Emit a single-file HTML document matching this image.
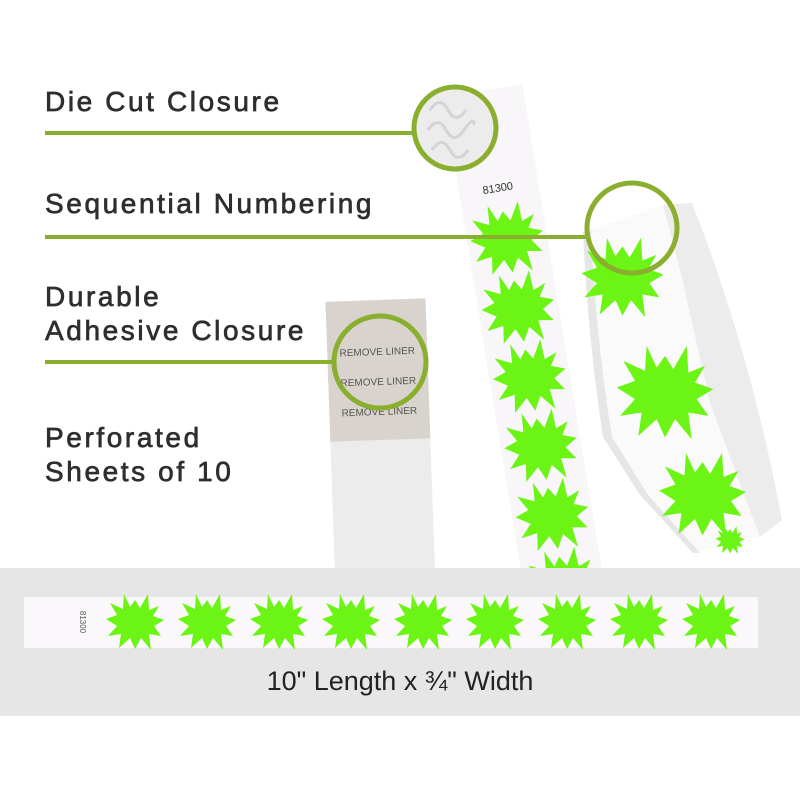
<!DOCTYPE html>
<html><head><style>
html,body{margin:0;padding:0;background:#fff;}
svg{display:block}
text{font-family:"Liberation Sans",sans-serif;}
</style></head><body>
<svg width="800" height="800" viewBox="0 0 800 800" xmlns="http://www.w3.org/2000/svg">
<defs>
<symbol id="st" viewBox="-30 -30 60 60">
<polygon points="0,-22 5,-14 13,-28 14,-12 24,-16 18,-6 29,-2 19,4 26,14 14,12 16,28 6,16 0,27 -5,16 -16,26 -14,12 -27,14 -18,4 -29,-3 -18,-7 -25,-19 -12,-13 -11,-28 -5,-15" fill="#6cf514"/>
</symbol>
<clipPath id="top"><rect x="0" y="0" width="800" height="568"/></clipPath>
</defs>
<rect width="800" height="800" fill="#fff"/>

<!-- gray band -->
<rect x="0" y="568" width="800" height="148" fill="#e6e6e6"/>
<rect x="24" y="597" width="734" height="51" fill="#fbf8fb"/>
<text x="80" y="622" font-size="8" fill="#555" transform="rotate(90 80 622)" text-anchor="middle">81300</text>
<g>
<use href="#st" x="104" y="592" width="62" height="60"/>
<use href="#st" x="176" y="592" width="62" height="60"/>
<use href="#st" x="248" y="592" width="62" height="60"/>
<use href="#st" x="320" y="592" width="62" height="60"/>
<use href="#st" x="392" y="592" width="62" height="60"/>
<use href="#st" x="464" y="592" width="62" height="60"/>
<use href="#st" x="536" y="592" width="62" height="60"/>
<use href="#st" x="608" y="592" width="62" height="60"/>
<use href="#st" x="680" y="592" width="62" height="60"/>
</g>
<text x="400" y="690" font-size="27" fill="#222" text-anchor="middle">10" Length x ¾" Width</text>

<g clip-path="url(#top)">
<!-- adhesive piece -->
<g transform="rotate(-2 380 430)">
<rect x="330" y="300" width="100" height="275" fill="#ececec"/>
<rect x="330" y="300" width="100" height="140" fill="#d9d3cd"/>
<text x="380" y="355" font-size="10" fill="#555" text-anchor="middle">REMOVE LINER</text>
<text x="380" y="385" font-size="10" fill="#555" text-anchor="middle">REMOVE LINER</text>
<text x="380" y="415" font-size="10" fill="#555" text-anchor="middle">REMOVE LINER</text>
</g>

<!-- vertical strip -->
<g transform="rotate(-9.3 520 330)">
<rect x="482" y="88" width="80" height="500" fill="#f8f6f8"/>
<text x="521" y="190" font-size="11" fill="#333" text-anchor="middle">81300</text>
<use href="#st" x="484" y="200" width="76" height="76"/>
<use href="#st" x="484" y="270" width="76" height="76"/>
<use href="#st" x="484" y="340" width="76" height="76"/>
<use href="#st" x="484" y="410" width="76" height="76"/>
<use href="#st" x="484" y="480" width="76" height="76"/>
<use href="#st" x="484" y="550" width="76" height="76"/>
</g>

<!-- bracelet -->
<path d="M663,205 L692,203 Q750,350 782,520 L760,537 L747,503 L710,403 L680,270Z" fill="#ececec"/>
<path d="M583,232 L663,205 L680,270 L710,403 L747,503 L760,537 L693,553 L640,495 L603,437 Q588,340 583,232Z" fill="#fafafa"/>
<path d="M583,232 Q588,340 603,437 L640,495 L693,553 L700,553 L648,495 L612,437 Q596,340 591,230Z" fill="#e6e6e6"/>
<use href="#st" x="580" y="230" width="85" height="95"/>
<use href="#st" x="615" y="335" width="100" height="115"/>
<use href="#st" x="655" y="450" width="95" height="90"/>
<use href="#st" x="700" y="525" width="60" height="30"/>
</g>

<!-- labels -->
<g font-size="28" fill="#2e2e2e" stroke="#2e2e2e" stroke-width="0.7" letter-spacing="2.6">
<text x="45" y="111">Die Cut Closure</text>
<text x="45" y="213">Sequential Numbering</text>
<text x="45" y="306">Durable</text>
<text x="45" y="340">Adhesive Closure</text>
<text x="45" y="447">Perforated</text>
<text x="45" y="481">Sheets of 10</text>
</g>

<!-- lines & circles -->
<g stroke="#8aae2e" stroke-width="4" fill="none">
<line x1="45" y1="133" x2="414" y2="133"/>
<line x1="45" y1="237" x2="588" y2="237"/>
<line x1="45" y1="362" x2="334" y2="362"/>
</g>
<circle cx="455" cy="128" r="41" fill="#ececec" stroke="#8aae2e" stroke-width="5"/>
<path d="M430,110 q10,-15 18,0 t18,0 M428,130 q10,-15 18,0 t18,0 t10,-5 M432,150 q10,-15 18,0 t18,0" stroke="#d4d4d4" stroke-width="3" fill="none"/>
<circle cx="632" cy="228" r="45" fill="none" stroke="#8aae2e" stroke-width="5"/>
<circle cx="380" cy="362" r="46" fill="none" stroke="#8aae2e" stroke-width="5"/>
</svg>
</body></html>
